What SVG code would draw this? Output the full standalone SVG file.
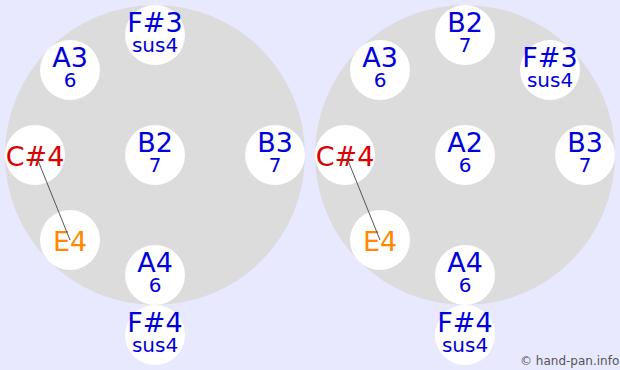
<svg xmlns="http://www.w3.org/2000/svg" width="620" height="370" viewBox="0 0 620 370">
<style>
.pan{fill:#dcdcdc}
.nc{fill:#ffffff}
text{font-family:"DejaVu Sans","Noto Sans",sans-serif;text-anchor:middle}
.m{font-size:27px;fill:#0000dd}
.s{font-size:20px;fill:#0000dd}
.red{fill:#dd0000}
.org{fill:#ff8800}
.cn{stroke:#555555;stroke-width:1;fill:none}
.cp{font-size:12px;fill:#555555;text-anchor:start}
</style>
<rect width="620" height="370" fill="#e8e8ff"/>
<circle class="pan" cx="155" cy="155" r="150"/>
<circle class="pan" cx="465" cy="155" r="150"/>

<g id="L-F3"><circle class="nc" cx="155" cy="35" r="30"/><text class="m" x="155" y="32">F#3</text><text class="s" x="155" y="52">sus4</text></g>
<g id="L-A3"><circle class="nc" cx="70" cy="70" r="30"/><text class="m" x="70" y="67">A3</text><text class="s" x="70" y="87">6</text></g>
<g id="L-C4"><circle class="nc" cx="35" cy="155" r="30"/><text class="m red" x="35" y="166">C#4</text></g>
<g id="L-B2"><circle class="nc" cx="155" cy="155" r="30"/><text class="m" x="155" y="152">B2</text><text class="s" x="155" y="172">7</text></g>
<g id="L-B3"><circle class="nc" cx="275" cy="155" r="30"/><text class="m" x="275" y="152">B3</text><text class="s" x="275" y="172">7</text></g>
<g id="L-E4"><circle class="nc" cx="70" cy="240" r="30"/><text class="m org" x="70" y="251">E4</text></g>
<g id="L-A4"><circle class="nc" cx="155" cy="275" r="30"/><text class="m" x="155" y="272">A4</text><text class="s" x="155" y="292">6</text></g>
<g id="L-F4"><circle class="nc" cx="155" cy="335" r="30"/><text class="m" x="155" y="332">F#4</text><text class="s" x="155" y="352">sus4</text></g>

<g id="R-B2"><circle class="nc" cx="465" cy="35" r="30"/><text class="m" x="465" y="32">B2</text><text class="s" x="465" y="52">7</text></g>
<g id="R-A3"><circle class="nc" cx="380" cy="70" r="30"/><text class="m" x="380" y="67">A3</text><text class="s" x="380" y="87">6</text></g>
<g id="R-F3"><circle class="nc" cx="550" cy="70" r="30"/><text class="m" x="550" y="67">F#3</text><text class="s" x="550" y="87">sus4</text></g>
<g id="R-C4"><circle class="nc" cx="345" cy="155" r="30"/><text class="m red" x="345" y="166">C#4</text></g>
<g id="R-A2"><circle class="nc" cx="465" cy="155" r="30"/><text class="m" x="465" y="152">A2</text><text class="s" x="465" y="172">6</text></g>
<g id="R-B3"><circle class="nc" cx="585" cy="155" r="30"/><text class="m" x="585" y="152">B3</text><text class="s" x="585" y="172">7</text></g>
<g id="R-E4"><circle class="nc" cx="380" cy="240" r="30"/><text class="m org" x="380" y="251">E4</text></g>
<g id="R-A4"><circle class="nc" cx="465" cy="275" r="30"/><text class="m" x="465" y="272">A4</text><text class="s" x="465" y="292">6</text></g>
<g id="R-F4"><circle class="nc" cx="465" cy="335" r="30"/><text class="m" x="465" y="332">F#4</text><text class="s" x="465" y="352">sus4</text></g>

<g id="connectors">
<line class="cn" x1="37" y1="158" x2="70" y2="240"/>
<line class="cn" x1="347" y1="158" x2="380" y2="240"/>
</g>
<text class="cp" x="520" y="365">© hand-pan.info</text>
</svg>
